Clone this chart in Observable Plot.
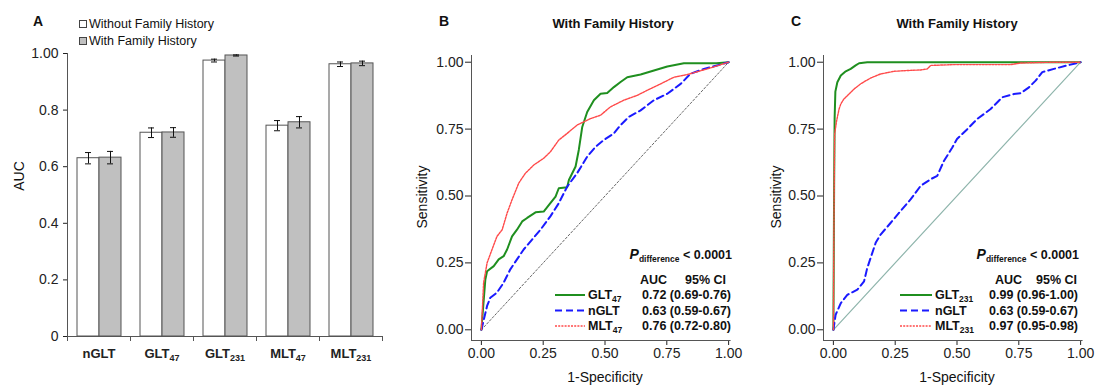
<!DOCTYPE html>
<html><head><meta charset="utf-8">
<script src="https://cdn.jsdelivr.net/npm/d3@7"></script>
<script src="https://cdn.jsdelivr.net/npm/@observablehq/plot@0.6"></script>
<style>
body{margin:0;background:#fff;}
#wrap{position:relative;width:1097px;height:387px;overflow:hidden;}
</style></head><body><div id="wrap"></div>
<script>
// ---------- DATA ----------
const categories = ["nGLT","GLT47","GLT231","MLT47","MLT231"];
const catNames = ["nGLT","GLT","GLT","MLT","MLT"];
const catSubs  = ["","47","231","47","231"];
const aucWithout = [0.630,0.720,0.975,0.745,0.962];
const errWithout = [0.020,0.017,0.005,0.018,0.008];
const aucWith    = [0.632,0.721,0.993,0.757,0.965];
const errWith    = [0.022,0.017,0.002,0.020,0.008];
const groupLabels = ["Without Family History","With Family History"];
const yTicksA = [0,0.2,0.4,0.6,0.8,1.0];
const yTickLabelsA = ["0","0.2","0.4","0.6","0.8","1.00"];
const rocTicks = [0,0.25,0.5,0.75,1];
const rocTickLabels = ["0.00","0.25","0.50","0.75","1.00"];
const diagonal = [0,1];

// Panel B ROC curves [1-specificity, sensitivity]
const bGLT47 = [[0,0],[0.016,0.188],[0.023,0.219],[0.05,0.238],[0.07,0.263],[0.09,0.275],[0.104,0.30],[0.124,0.349],[0.144,0.374],[0.165,0.405],[0.185,0.418],[0.219,0.439],[0.252,0.442],[0.279,0.473],[0.30,0.498],[0.313,0.529],[0.347,0.533],[0.354,0.56],[0.381,0.61],[0.394,0.672],[0.408,0.758],[0.428,0.814],[0.455,0.858],[0.482,0.882],[0.509,0.885],[0.536,0.907],[0.563,0.926],[0.59,0.944],[0.644,0.954],[0.698,0.969],[0.752,0.984],[0.819,0.996],[0.95,0.996],[1,1]];
const bNGLT = [[0,0],[0.023,0.089],[0.036,0.12],[0.063,0.139],[0.09,0.176],[0.117,0.226],[0.144,0.263],[0.171,0.30],[0.205,0.337],[0.239,0.374],[0.279,0.424],[0.313,0.473],[0.347,0.535],[0.387,0.585],[0.428,0.647],[0.462,0.684],[0.495,0.709],[0.536,0.734],[0.563,0.765],[0.597,0.796],[0.644,0.82],[0.698,0.858],[0.752,0.882],[0.806,0.919],[0.846,0.957],[0.9,0.975],[0.954,0.988],[1,1]];
const bMLT47 = [[0,0],[0.009,0.176],[0.023,0.25],[0.043,0.30],[0.063,0.349],[0.084,0.374],[0.104,0.436],[0.124,0.486],[0.151,0.548],[0.178,0.585],[0.212,0.616],[0.252,0.641],[0.279,0.665],[0.313,0.709],[0.347,0.734],[0.387,0.765],[0.441,0.789],[0.482,0.802],[0.522,0.833],[0.576,0.858],[0.63,0.876],[0.684,0.901],[0.725,0.919],[0.779,0.944],[0.833,0.954],[0.914,0.975],[1,1]];
// Panel C ROC curves
const cGLT231 = [[0,0],[0.003,0.54],[0.005,0.79],[0.008,0.89],[0.016,0.925],[0.03,0.95],[0.05,0.966],[0.07,0.975],[0.09,0.988],[0.104,0.996],[0.137,1],[1,1]];
const cNGLT = [[0,0],[0.009,0.056],[0.03,0.1],[0.057,0.131],[0.097,0.15],[0.124,0.181],[0.137,0.231],[0.171,0.325],[0.191,0.356],[0.232,0.4],[0.272,0.444],[0.313,0.488],[0.353,0.538],[0.394,0.563],[0.42,0.575],[0.447,0.631],[0.481,0.681],[0.5,0.713],[0.542,0.75],[0.582,0.788],[0.636,0.825],[0.683,0.869],[0.73,0.881],[0.757,0.884],[0.791,0.906],[0.818,0.931],[0.845,0.963],[0.892,0.975],[0.946,0.988],[1,1]];
const cMLT231 = [[0,0],[0.003,0.506],[0.005,0.731],[0.013,0.781],[0.023,0.825],[0.03,0.844],[0.043,0.863],[0.063,0.881],[0.084,0.9],[0.11,0.919],[0.151,0.941],[0.191,0.956],[0.245,0.966],[0.299,0.969],[0.353,0.971],[0.38,0.975],[0.394,0.988],[0.488,0.991],[0.717,0.991],[0.757,0.997],[0.892,1],[1,1]];

const legendBNames = ["GLT","nGLT","MLT"];
const legendBSubs  = ["47","","47"];
const legendBValues = ["0.72 (0.69-0.76)","0.63 (0.59-0.67)","0.76 (0.72-0.80)"];
const legendCNames = ["GLT","nGLT","MLT"];
const legendCSubs  = ["231","","231"];
const legendCValues = ["0.99 (0.96-1.00)","0.63 (0.59-0.67)","0.97 (0.95-0.98)"];
const pText = "< 0.0001";

// ---------- STYLE ----------
const FONT = '"Liberation Sans", Arial, Helvetica, sans-serif';
const AX = "#555";
const GREY = "#c0c0c0";
const seriesStyle = [
  {stroke:"#1f8f1f", strokeWidth:2, dash:null},
  {stroke:"#1a1aff", strokeWidth:2, dash:"7,4"},
  {stroke:"#ff4a4a", strokeWidth:1.4, dash:"2,1.2"}
];
const wrap = document.getElementById("wrap");
function place(svg, left){ svg.style.position="absolute"; svg.style.left=left+"px"; svg.style.top="0px"; wrap.appendChild(svg); }
const baseStyle = {fontFamily: FONT, fontSize:"14px", color:"#222", background:"none", overflow:"visible"};

// ---------- PANEL A ----------
const rowsW = categories.map((c,i)=>({cat:c, v:aucWithout[i], e:errWithout[i]}));
const rowsG = categories.map((c,i)=>({cat:c, v:aucWith[i], e:errWith[i]}));
const widthA = 390, mLA = 67, mRA = 8;
const bw = (widthA - mLA - mRA) / categories.length;
const capW = 6;
const plotA = Plot.plot({
  width: widthA, height: 387, marginLeft: mLA, marginRight: mRA, marginTop: 53, marginBottom: 51,
  style: baseStyle,
  x: {domain: categories, padding: 0, round: false, tickSize: 0, tickPadding: 12, label: null},
  y: {domain: [0,1], ticks: yTicksA, tickFormat: d => yTickLabelsA[yTicksA.indexOf(d)] ?? d, tickSize: 4, tickPadding: 5, label: null},
  marks: [
    Plot.barY(rowsW, {x:"cat", y:"v", fill:"white", stroke:AX, strokeWidth:1, insetLeft:10, insetRight:bw-32}),
    Plot.barY(rowsG, {x:"cat", y:"v", fill:GREY, stroke:AX, strokeWidth:1, insetLeft:32, insetRight:bw-54}),
    Plot.ruleX(rowsW, {x:"cat", y1:d=>d.v-d.e, y2:d=>d.v+d.e, dx:21-bw/2, stroke:"#111"}),
    Plot.ruleX(rowsG, {x:"cat", y1:d=>d.v-d.e, y2:d=>d.v+d.e, dx:43-bw/2, stroke:"#111"}),
    Plot.tickY(rowsW, {x:"cat", y:d=>d.v+d.e, insetLeft:21-capW/2, insetRight:bw-21-capW/2, stroke:"#111"}),
    Plot.tickY(rowsW, {x:"cat", y:d=>d.v-d.e, insetLeft:21-capW/2, insetRight:bw-21-capW/2, stroke:"#111"}),
    Plot.tickY(rowsG, {x:"cat", y:d=>d.v+d.e, insetLeft:43-capW/2, insetRight:bw-43-capW/2, stroke:"#111"}),
    Plot.tickY(rowsG, {x:"cat", y:d=>d.v-d.e, insetLeft:43-capW/2, insetRight:bw-43-capW/2, stroke:"#111"}),
    Plot.ruleY([0], {stroke:AX}),
    Plot.ruleX([categories[0]], {x:d=>d, dx:-bw/2, stroke:AX}),
    Plot.ruleX(categories, {x:d=>d, dx:-bw/2, y1:0, y2:0, insetBottom:-5, stroke:AX}),
    Plot.ruleX([categories[categories.length-1]], {x:d=>d, dx:bw/2, y1:0, y2:0, insetBottom:-5, stroke:AX})
  ]
});
place(plotA, 0);
// bold category labels with subscripts
plotA.querySelectorAll("text").forEach(t => {
  const k = categories.indexOf(t.textContent);
  if (k >= 0) {
    t.textContent = "";
    t.style.fontWeight = "bold"; t.style.fontSize = "13px";
    const s = d3.select(t);
    s.append("tspan").text(catNames[k]);
    if (catSubs[k]) { s.append("tspan").attr("font-size", 9).attr("dy", 3).text(catSubs[k]); }
  }
});

// ---------- ROC PANELS ----------
function rocPlot(curves, diagStyle, width, mL, mR) {
  return Plot.plot({
    width, height: 387, marginLeft: mL, marginRight: mR, marginTop: 51, marginBottom: 47,
    style: baseStyle,
    x: {domain: [-0.04, 1.04], ticks: rocTicks, tickFormat: d => rocTickLabels[rocTicks.indexOf(d)], tickSize: 5, tickPadding: 3, label: null},
    y: {domain: [-0.04, 1.04], ticks: rocTicks, tickFormat: d => rocTickLabels[rocTicks.indexOf(d)], tickSize: 6, tickPadding: 2, label: null},
    marks: [
      Plot.ruleY([-0.04], {x1:-0.04, x2:1.01, stroke:AX}),
      Plot.ruleX([-0.04], {y1:-0.04, y2:1.025, stroke:AX}),
      Plot.line(diagonal, {x:d=>d, y:d=>d, ...diagStyle}),
      ...curves.map((c,i) => Plot.line(c, {x:d=>d[0], y:d=>d[1], stroke:seriesStyle[i].stroke, strokeWidth:seriesStyle[i].strokeWidth, strokeDasharray:seriesStyle[i].dash ?? undefined}))
    ]
  });
}
const plotB = rocPlot([bGLT47, bNGLT, bMLT47], {stroke:"#666", strokeWidth:1, strokeDasharray:"2,2"}, 340, 71, 2);
place(plotB, 400);
const plotC = rocPlot([cGLT231, cNGLT, cMLT231], {stroke:"#8fb5ac", strokeWidth:1.2}, 337, 63, 7);
place(plotC, 760);

// ---------- ANNOTATIONS ----------
const ov = d3.create("svg").attr("width",1097).attr("height",387)
  .style("position","absolute").style("left","0px").style("top","0px")
  .style("font-family", FONT).attr("fill","#111");
function txt(x,y,str,{size=13,weight="bold",anchor="middle",rotate=0}={}) {
  return ov.append("text").attr("x",x).attr("y",y).attr("dy","0.35em")
    .attr("text-anchor",anchor).attr("font-size",size).attr("font-weight",weight)
    .attr("transform", rotate ? `rotate(${rotate},${x},${y})` : null).text(str);
}
// panel letters & titles
txt(38,21.5,"A",{size:14}); txt(444,21,"B",{size:14}); txt(796,21,"C",{size:14});
txt(613,23,"With Family History",{size:13}); txt(957,23,"With Family History",{size:13});
// axis titles
txt(19,176,"AUC",{size:14,weight:"normal",rotate:-90});
txt(422,197,"Sensitivity",{size:14,weight:"normal",rotate:-90});
txt(776,197,"Sensitivity",{size:14,weight:"normal",rotate:-90});
txt(605,377,"1-Specificity",{size:14,weight:"normal"});
txt(957,377,"1-Specificity",{size:14,weight:"normal"});
// legend A
[["white",24],[GREY,41]].forEach(([f,y],i)=>{
  ov.append("rect").attr("x",79.5).attr("y",y-3.5).attr("width",7).attr("height",7).attr("fill",f).attr("stroke","#444");
  txt(89,y,groupLabels[i],{size:12.5,weight:"normal",anchor:"start"});
});
// ROC legends
function rocLegend(names, subs, values, pRight, aucX, ciRight, lineX1, lineX2, nameX, valRight) {
  const p = ov.append("text").attr("x",pRight).attr("y",253).attr("dy","0.35em").attr("text-anchor","end").attr("font-weight","bold");
  p.append("tspan").attr("font-style","italic").attr("font-size",14).text("P");
  p.append("tspan").attr("font-size",8.5).attr("dy",3).text("difference");
  p.append("tspan").attr("font-size",12.5).attr("dy",-3).text(" " + pText);
  txt(aucX,280,"AUC",{size:12.5,anchor:"start"});
  txt(ciRight,280,"95% CI",{size:12.5,anchor:"end"});
  const ys = [295,310.5,326];
  names.forEach((n,i)=>{
    const st = seriesStyle[i];
    ov.append("line").attr("x1",lineX1).attr("x2",lineX2).attr("y1",ys[i]).attr("y2",ys[i])
      .attr("stroke",st.stroke).attr("stroke-width",st.strokeWidth).attr("stroke-dasharray",st.dash);
    const t = ov.append("text").attr("x",nameX).attr("y",ys[i]).attr("dy","0.35em").attr("font-weight","bold").attr("font-size",12.5);
    t.append("tspan").text(n);
    if (subs[i]) t.append("tspan").attr("font-size",8.5).attr("dy",3).text(subs[i]);
    txt(valRight,ys[i],values[i],{size:12.5,anchor:"end"});
  });
}
rocLegend(legendBNames, legendBSubs, legendBValues, 732, 640, 726, 555, 585, 588, 731);
rocLegend(legendCNames, legendCSubs, legendCValues, 1079, 995, 1077, 900, 932, 935, 1078);
wrap.appendChild(ov.node());
</script></body></html>
